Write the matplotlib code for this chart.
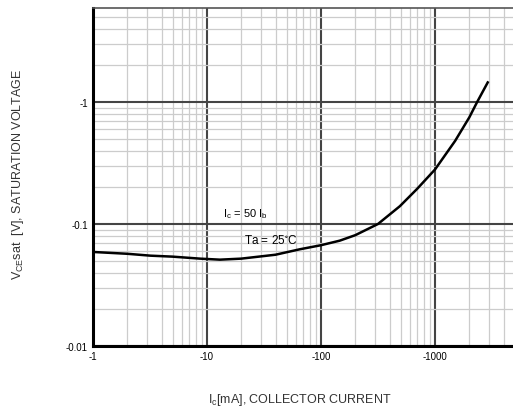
import numpy as np
import matplotlib
matplotlib.use('Agg')
import matplotlib.pyplot as plt
from matplotlib.ticker import LogLocator, NullFormatter

plt.rcParams['font.family'] = ['Liberation Sans', 'DejaVu Sans']
plt.rcParams['mathtext.default'] = 'regular'

# collector current (mA, magnitude) and VCE(sat) (V, magnitude)
ic_ma = [1, 2, 3.2, 5, 8.7, 13, 20, 40, 65, 100, 146, 200, 316, 492, 700, 1000, 1500, 2000, 2340, 2900]
vce_sat = [0.059, 0.057, 0.055, 0.054, 0.052, 0.051, 0.052, 0.056, 0.062, 0.067, 0.073, 0.081, 0.100, 0.140, 0.195, 0.28, 0.48, 0.75, 1.0, 1.45]

x_ticks = [1, 10, 100, 1000]
x_tick_labels = ['-1', '-10', '-100', '-1000']
y_ticks = [0.01, 0.1, 1]
y_tick_labels = ['-0.01', '-0.1', '-1']

fig = plt.figure(figsize=(5.13, 4.14), dpi=100)
ax = fig.add_axes([0.181, 0.162, 0.819, 0.816])

ax.set_xscale('log')
ax.set_yscale('log')
ax.set_xlim(1, 4830)
ax.set_ylim(0.01, 5.9)

ax.plot(ic_ma, vce_sat, color='black', lw=1.8, solid_joinstyle='round')

ax.xaxis.set_minor_locator(LogLocator(base=10, subs=np.arange(2, 10)))
ax.yaxis.set_minor_locator(LogLocator(base=10, subs=np.arange(2, 10)))
ax.xaxis.set_minor_formatter(NullFormatter())
ax.yaxis.set_minor_formatter(NullFormatter())
ax.set_xticks(x_ticks, x_tick_labels)
ax.set_yticks(y_ticks, y_tick_labels)
ax.tick_params(which='both', length=0, labelsize=7)
ax.tick_params(axis='x', pad=4)

ax.grid(True, which='major', color='#444444', lw=1.5)
ax.grid(True, which='minor', color='#cccccc', lw=0.9)
ax.set_axisbelow(True)

ax.spines['right'].set_visible(False)
ax.spines['left'].set_linewidth(2.2)
ax.spines['bottom'].set_linewidth(2.2)
ax.spines['top'].set_linewidth(1.2)
ax.spines['top'].set_color('#555555')

ax.text(0.31, 0.385, r'I$_c$ = 50 I$_b$', transform=ax.transAxes, fontsize=8)
ax.text(0.36, 0.305, r'Ta = 25$^{\circ}$C', transform=ax.transAxes, fontsize=8.5)

fig.text(0.035, 0.58, r'V$_{CE}$sat  [V], SATURATION VOLTAGE', rotation=90,
         ha='center', va='center', fontsize=9, color='#333333')
fig.text(0.585, 0.035, r'I$_c$[mA], COLLECTOR CURRENT',
         ha='center', va='center', fontsize=9, color='#333333')

fig.savefig('out.png', dpi=100)
